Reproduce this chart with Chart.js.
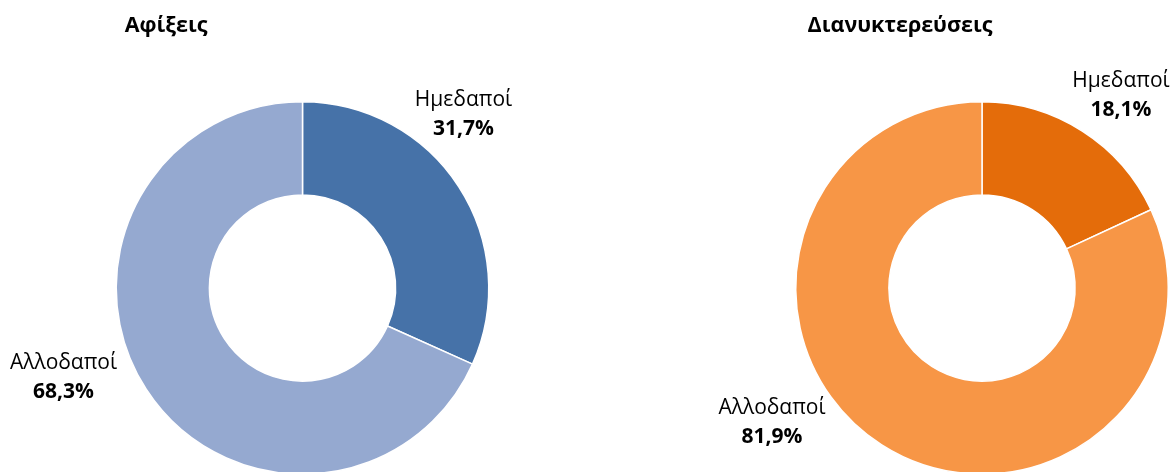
<!DOCTYPE html>
<html>
<head>
<meta charset="utf-8">
<script src="https://cdn.jsdelivr.net/npm/chart.js@4"></script>
<style>
  html, body { margin: 0; padding: 0; background: #fff; overflow: hidden; }
  .box { position: absolute; top: 0; width: 588px; height: 520px; }
</style>
</head>
<body>
<div class="box" style="left:0"><canvas id="arrivals"></canvas></div>
<div class="box" style="left:588px"><canvas id="nights"></canvas></div>
<script>
const categories = ["Ημεδαποί", "Αλλοδαποί"];
const arrivalsShare = [31.7, 68.3];
const nightsShare = [18.1, 81.9];
const chartTitles = ["Αφίξεις", "Διανυκτερεύσεις"];

const FONT = "'Open Sans', 'DejaVu Sans', sans-serif";

// titles + outside labels, placed relative to the doughnut centre
const labelPlugin = {
	id: 'sliceLabels',
	afterDraw(chart, args, opts) {
		const ctx = chart.ctx;
		const arc = chart.getDatasetMeta(0).data[0];
		const cx = arc.x, cy = arc.y;
		ctx.save();
		ctx.fillStyle = '#000';
		ctx.textAlign = 'center';
		ctx.textBaseline = 'middle';
		ctx.font = 'bold 21.5px ' + FONT;
		ctx.fillText(opts.title, opts.titleX, 26);
		const vals = chart.data.datasets[0].data;
		chart.data.labels.forEach((lab, i) => {
			const x = cx + opts.offsets[i][0];
			const y = cy + opts.offsets[i][1];
			ctx.font = '21px ' + FONT;
			ctx.fillText(lab, x, y - 14);
			ctx.font = 'bold 21px ' + FONT;
			ctx.fillText(vals[i].toFixed(1).replace('.', ',') + '%', x, y + 15);
		});
		ctx.restore();
	}
};

function makeDonut(id, values, colors, padding, plugOpts) {
	return new Chart(document.getElementById(id), {
		type: 'doughnut',
		data: {
			labels: categories,
			datasets: [{
				data: values,
				backgroundColor: colors,
				borderColor: '#fff',
				borderWidth: 1.5
			}]
		},
		options: {
			responsive: true,
			maintainAspectRatio: false,
			animation: false,
			cutout: '50%',
			layout: { padding: padding },
			plugins: {
				legend: { display: false },
				tooltip: { enabled: false },
				sliceLabels: plugOpts
			}
		},
		plugins: [labelPlugin]
	});
}

makeDonut('arrivals', arrivalsShare, ['#4672A8', '#95A9D0'],
	{ top: 101, bottom: 45, left: 115, right: 98 },
	{ title: chartTitles[0], titleX: 166, offsets: [[161, -174], [-239, 89]] });

makeDonut('nights', nightsShare, ['#E46C0A', '#F79646'],
	{ top: 101, bottom: 45, left: 207, right: 7 },
	{ title: chartTitles[1], titleX: 312, offsets: [[139, -193], [-210, 134]] });
</script>
</body>
</html>
